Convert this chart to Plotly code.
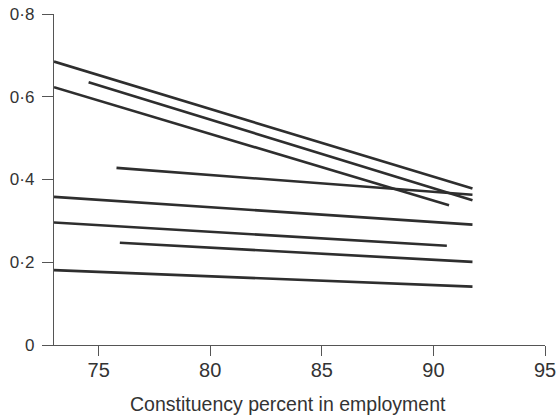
import plotly.graph_objects as go

# Each regression line: start/end x (employment %) and fitted y
x_start = [73.0, 74.55, 73.0, 75.8, 73.0, 73.0, 75.95, 73.0]
x_end   = [91.75, 91.75, 90.7, 91.75, 91.75, 90.6, 91.75, 91.75]
y_start = [0.685, 0.635, 0.623, 0.428, 0.358, 0.296, 0.247, 0.181]
y_end   = [0.378, 0.350, 0.338, 0.363, 0.291, 0.240, 0.201, 0.141]

y_tickvals = [0, 0.2, 0.4, 0.6, 0.8]
y_ticktext = ["0", "0·2", "0·4", "0·6", "0·8"]
x_tickvals = [75, 80, 85, 90, 95]
x_title = "Constituency percent in employment"

LINE_COLOR = "#2e2e2e"
AXIS_COLOR = "#555555"
TEXT_COLOR = "#333333"

fig = go.Figure()
for xs, xe, ys, ye in zip(x_start, x_end, y_start, y_end):
    fig.add_trace(go.Scatter(
        x=[xs, xe], y=[ys, ye], mode="lines",
        line=dict(color=LINE_COLOR, width=2.6),
        showlegend=False, hoverinfo="skip",
    ))

fig.add_annotation(
    text=x_title, xref="paper", yref="paper", x=0.4756, y=-0.178,
    xanchor="center", yanchor="middle", showarrow=False,
    font=dict(size=19.5, color=TEXT_COLOR),
)

fig.update_layout(
    width=556, height=420,
    margin=dict(l=54, r=11, t=14, b=75),
    paper_bgcolor="white", plot_bgcolor="white",
    font=dict(family="Liberation Sans, Arial, sans-serif", size=17, color=TEXT_COLOR),
    xaxis=dict(
        range=[73, 95], tickvals=x_tickvals, ticks="outside", ticklen=10,
        tickwidth=1.3, tickcolor=AXIS_COLOR, showline=True, linecolor=AXIS_COLOR,
        linewidth=1.3, showgrid=False, zeroline=False, automargin=False,
        ticklabelstandoff=-3, ticklabeloverflow="allow",
        tickfont=dict(size=20, color=TEXT_COLOR),
    ),
    yaxis=dict(
        range=[0, 0.8], tickvals=y_tickvals, ticktext=y_ticktext, ticks="outside",
        ticklen=11, tickwidth=1.3, tickcolor=AXIS_COLOR, showline=True,
        linecolor=AXIS_COLOR, linewidth=1.3, showgrid=False, zeroline=False,
        automargin=False, ticklabelstandoff=4, ticklabeloverflow="allow",
        tickfont=dict(size=17, color=TEXT_COLOR),
    ),
)

fig.write_html("out.html", config={"displayModeBar": False},
               post_script="document.body.style.margin='0';document.body.style.padding='0';")
